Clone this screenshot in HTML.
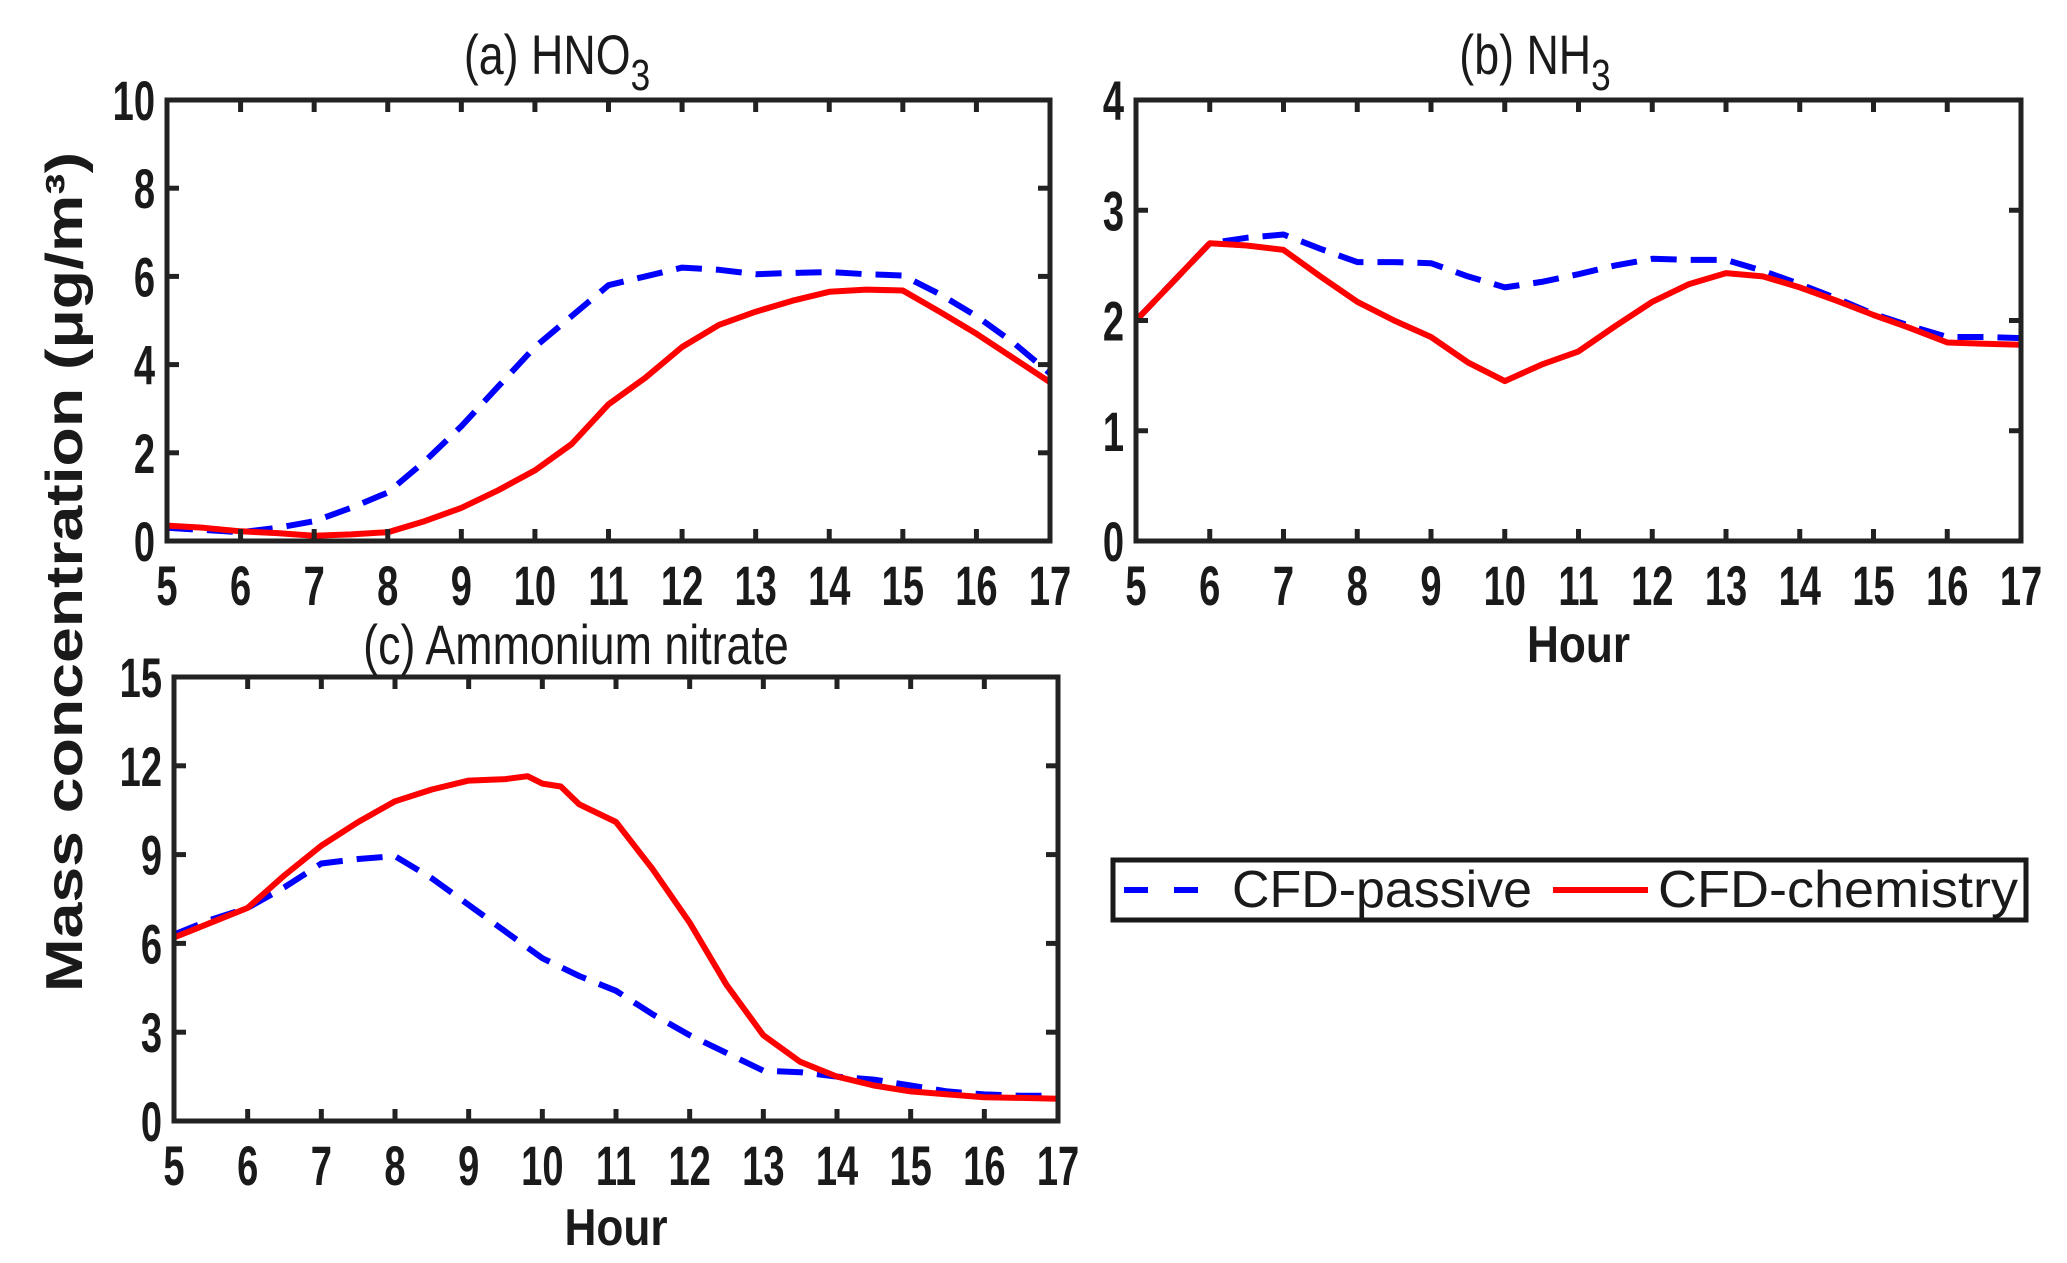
<!DOCTYPE html>
<html><head><meta charset="utf-8"><style>
html,body{margin:0;padding:0;background:#fff;}
svg{display:block;}
text{font-family:"Liberation Sans",sans-serif;fill:#1a1a1a;}
</style></head><body>
<svg id="fig" width="2067" height="1263" viewBox="0 0 2067 1263" xmlns="http://www.w3.org/2000/svg">
<text transform="translate(82,572) rotate(-90)" text-anchor="middle" font-size="52" font-weight="bold" textLength="840" lengthAdjust="spacingAndGlyphs">Mass concentration (μg/m³)</text>
<g>
<rect x="1113" y="860" width="913" height="60" fill="#fff" stroke="#1a1a1a" stroke-width="5"/>
<line x1="1124" y1="890" x2="1198" y2="890" stroke="#0000ff" stroke-width="6" stroke-dasharray="24,26"/>
<text x="1232" y="907" font-size="52" textLength="300" lengthAdjust="spacingAndGlyphs">CFD-passive</text>
<line x1="1553" y1="890" x2="1648" y2="890" stroke="#ff0000" stroke-width="6"/>
<text x="1658" y="907" font-size="52" textLength="360" lengthAdjust="spacingAndGlyphs">CFD-chemistry</text>
</g>
</svg>
<script>
const hoursA=[5,5.5,6,6.5,7,7.5,8,8.5,9,9.5,10,10.5,11,11.5,12,12.5,13,13.5,14,14.5,15,15.5,16,16.5,17];
const passiveA=[0.3,0.25,0.2,0.3,0.45,0.75,1.1,1.8,2.6,3.5,4.4,5.1,5.8,6.0,6.2,6.15,6.05,6.08,6.1,6.05,6.02,5.6,5.1,4.5,3.8];
const chemA=[0.35,0.3,0.22,0.18,0.12,0.15,0.2,0.45,0.75,1.15,1.6,2.2,3.1,3.7,4.4,4.9,5.2,5.45,5.65,5.7,5.68,5.2,4.7,4.15,3.6];
const passiveB=[2.0,2.35,2.7,2.75,2.78,2.65,2.53,2.53,2.52,2.4,2.3,2.35,2.42,2.5,2.56,2.55,2.55,2.45,2.33,2.2,2.06,1.95,1.85,1.85,1.84];
const chemB=[2.0,2.35,2.7,2.68,2.64,2.4,2.17,2.0,1.85,1.62,1.45,1.6,1.72,1.95,2.17,2.33,2.43,2.4,2.3,2.18,2.05,1.93,1.8,1.79,1.78];
const passiveC=[6.3,6.8,7.2,7.9,8.7,8.85,8.95,8.2,7.3,6.4,5.5,4.9,4.4,3.6,2.9,2.3,1.7,1.65,1.5,1.4,1.2,1.0,0.9,0.85,0.85];
const hoursCchem=[5,5.5,6,6.5,7,7.5,8,8.5,9,9.5,9.8,10,10.25,10.5,11,11.5,12,12.5,13,13.5,14,14.5,15,15.5,16,16.5,17];
const chemC=[6.2,6.7,7.2,8.3,9.3,10.1,10.8,11.2,11.5,11.55,11.65,11.4,11.3,10.7,10.1,8.5,6.7,4.6,2.9,2.0,1.5,1.2,1.0,0.9,0.8,0.78,0.75];
const xTicks=[5,6,7,8,9,10,11,12,13,14,15,16,17];
const yTicksA=[0,2,4,6,8,10];
const yTicksB=[0,1,2,3,4];
const yTicksC=[0,3,6,9,12,15];

const NS="http://www.w3.org/2000/svg";
const svg=document.getElementById('fig');
function el(tag,attrs,parent){const e=document.createElementNS(NS,tag);for(const k in attrs)e.setAttribute(k,attrs[k]);(parent||svg).appendChild(e);return e;}

function panel(key,L,R,T,B,ymax,yTicks,series,title,titleX,titleY,hourY){
  const g=el('g',{});
  
  
  const sx=v=>L+(v-5)/(17-5)*(R-L);
  const sy=v=>B-v/ymax*(B-T);
  series.forEach(s=>{
    const d=s.xs.map((x,i)=>(i?'L':'M')+sx(x).toFixed(1)+','+sy(s.ys[i]).toFixed(1)).join(' ');
    const p=el('path',{d:d,fill:'none',stroke:s.color,'stroke-width':6,'stroke-linejoin':'round','stroke-dasharray':s.dash||'none'},g);
    
    
  });
  el('rect',{x:L,y:T,width:R-L,height:B-T,fill:'none',stroke:'#222','stroke-width':5},g);
  xTicks.forEach(t=>{
    const x=sx(t);
    el('line',{x1:x,y1:B,x2:x,y2:B-12,stroke:'#222','stroke-width':5},g);
    el('line',{x1:x,y1:T,x2:x,y2:T+12,stroke:'#222','stroke-width':5},g);
    const tx=el('text',{transform:'translate('+x+','+(B+64)+') scale(0.68,1)','text-anchor':'middle','font-size':56,'font-weight':'bold'},g);
    tx.textContent=t;
    
    
  });
  yTicks.forEach(t=>{
    const y=sy(t);
    el('line',{x1:L,y1:y,x2:L+12,y2:y,stroke:'#222','stroke-width':5},g);
    el('line',{x1:R,y1:y,x2:R-12,y2:y,stroke:'#222','stroke-width':5},g);
    const tx=el('text',{transform:'translate('+(L-12)+','+(y+20)+') scale(0.68,1)','text-anchor':'end','font-size':56,'font-weight':'bold'},g);
    tx.textContent=t;
    
    
  });
  const tt=el('text',{transform:'translate('+titleX+','+titleY+') scale(0.8,1)','text-anchor':'middle','font-size':56},g);
  
  
  tt.innerHTML=title;
  if(hourY){
    const h=el('text',{transform:'translate('+((L+R)/2)+','+hourY+') scale(0.85,1)','text-anchor':'middle','font-size':52,'font-weight':'bold'},g);
    h.textContent='Hour';
    
    
  }
}
panel('a',167,1050,100,541,10,yTicksA,[
  {xs:hoursA,ys:passiveA,color:'#0000ff',dash:'26,14',name:'passive'},
  {xs:hoursA,ys:chemA,color:'#ff0000',name:'chemistry'}],
  '(a) HNO<tspan dy="16" font-size="44">3</tspan>',557,74,null);
panel('b',1136,2021,100,541,4,yTicksB,[
  {xs:hoursA,ys:passiveB,color:'#0000ff',dash:'26,14',name:'passive'},
  {xs:hoursA,ys:chemB,color:'#ff0000',name:'chemistry'}],
  '(b) NH<tspan dy="16" font-size="44">3</tspan>',1535,74,662);
panel('c',174,1058,677,1121,15,yTicksC,[
  {xs:hoursA,ys:passiveC,color:'#0000ff',dash:'26,14',name:'passive'},
  {xs:hoursCchem,ys:chemC,color:'#ff0000',name:'chemistry'}],
  '(c) Ammonium nitrate',576,664,1245);
</script>
</body></html>
